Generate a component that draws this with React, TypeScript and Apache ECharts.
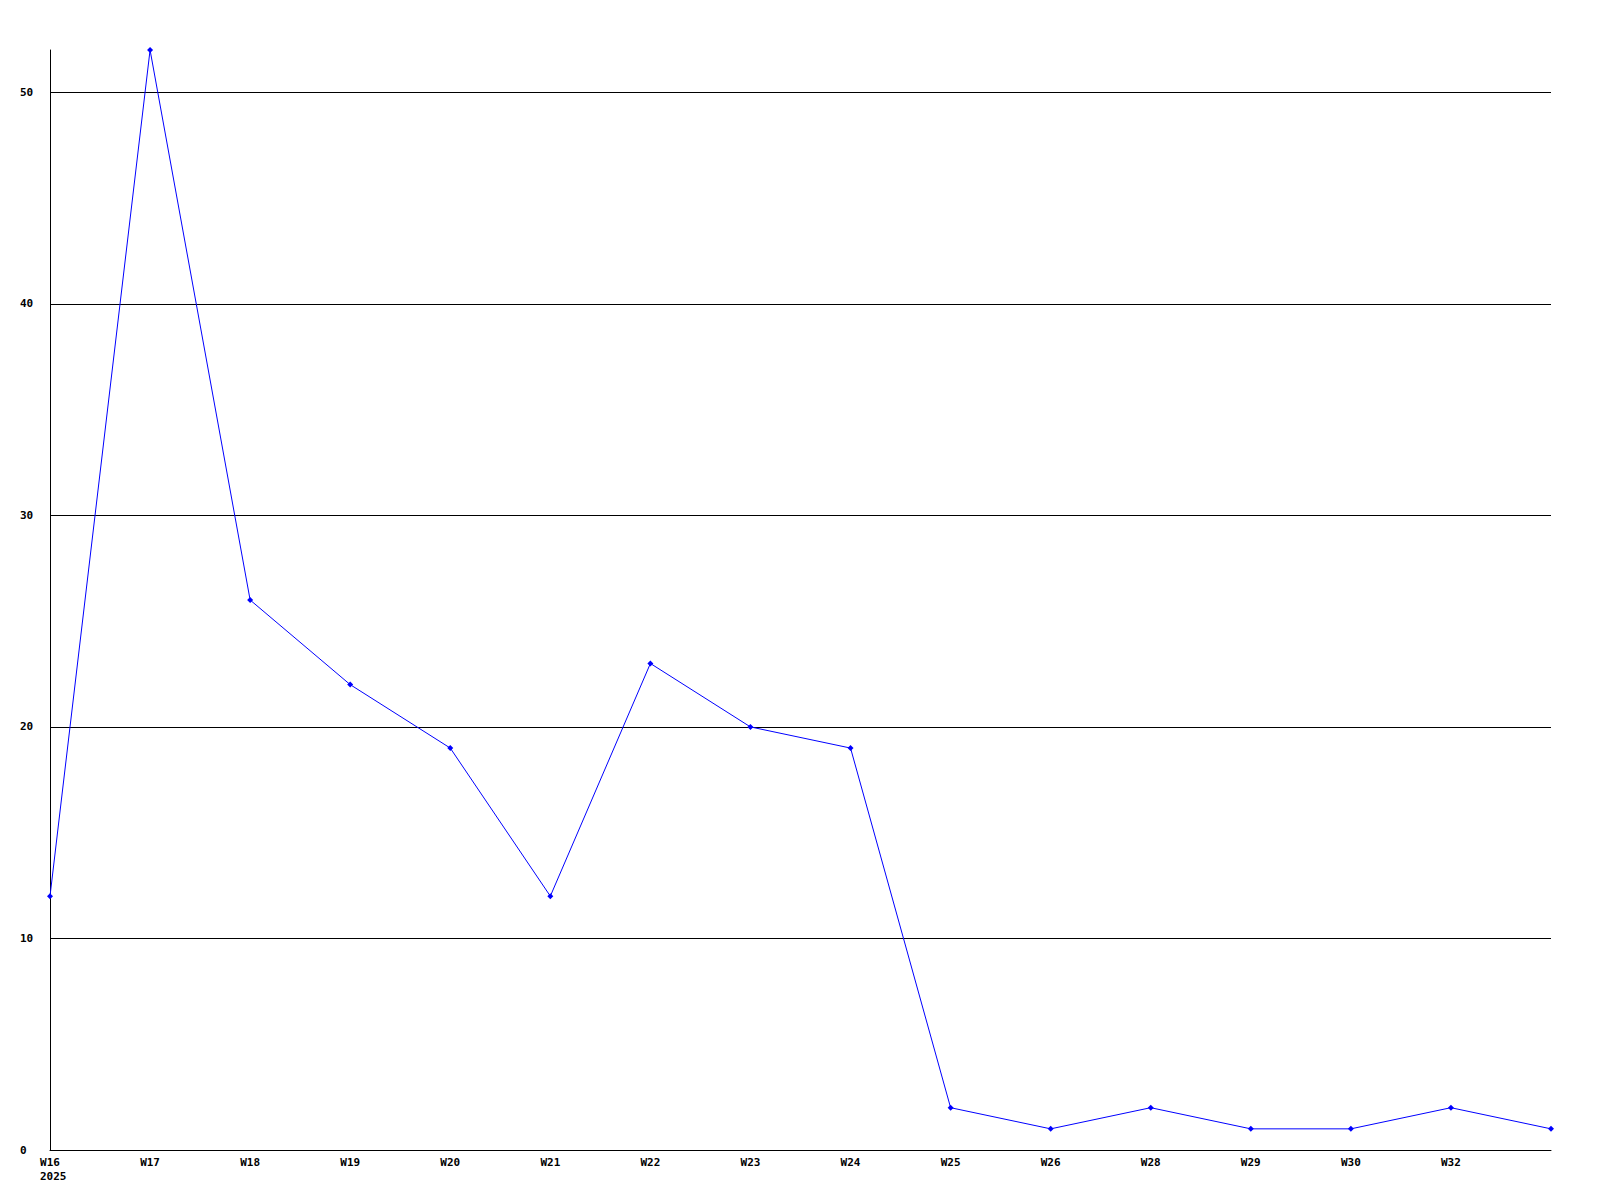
import React, { useEffect, useRef } from "react";
import * as echarts from "echarts";

const categories = ["W16", "W17", "W18", "W19", "W20", "W21", "W22", "W23", "W24", "W25", "W26", "W28", "W29", "W30", "W32", "W33"];
const values = [12, 52, 26, 22, 19, 12, 23, 20, 19, 2, 1, 2, 1, 1, 2, 1];
const yearLabel = "2025";

const FONT = "'DejaVu Sans Mono', 'Liberation Mono', monospace";

export default function App() {
  const ref = useRef<HTMLDivElement>(null);
  useEffect(() => {
    const chart = echarts.init(ref.current!, null, { renderer: "svg" });
    chart.setOption({
      animation: false,
      backgroundColor: "#ffffff",
      grid: { left: 50, right: 49, top: 50, bottom: 50, containLabel: false },
      xAxis: {
        type: "category",
        data: categories,
        boundaryGap: false,
        axisLine: { show: true, lineStyle: { color: "#000", width: 1 } },
        axisTick: { show: false },
        splitLine: { show: false },
        axisLabel: {
          show: true,
          interval: 0,
          margin: 7,
          color: "#000",
          fontFamily: FONT,
          fontWeight: "bold",
          fontSize: 11,
          showMaxLabel: false,
          formatter: (v: string, i: number) => (i === categories.length - 1 ? "" : v),
        },
      },
      yAxis: {
        type: "value",
        min: 0,
        max: 52,
        interval: 10,
        axisLine: { show: true, lineStyle: { color: "#000", width: 1 } },
        axisTick: { show: false },
        splitLine: { show: true, showMinLine: false, showMaxLine: false, lineStyle: { color: "#000", width: 1 } },
        axisLabel: {
          show: true,
          showMaxLabel: false,
          align: "left",
          margin: 30,
          color: "#000",
          fontFamily: FONT,
          fontWeight: "bold",
          fontSize: 11,
        },
      },
      graphic: [
        {
          type: "text",
          left: 40,
          top: 1171,
          style: {
            text: yearLabel,
            fill: "#000",
            font: `bold 11px ${FONT}`,
          },
        },
      ],
      series: [
        {
          type: "line",
          data: values,
          symbol: "diamond",
          symbolSize: 6,
          showAllSymbol: true,
          lineStyle: { color: "#0000ff", width: 1 },
          itemStyle: { color: "#0000ff" },
        },
      ],
    });
    return () => chart.dispose();
  }, []);
  return (
    <div
      ref={ref}
      style={{ position: "fixed", left: 0, top: 0, width: 1600, height: 1200 }}
    />
  );
}
